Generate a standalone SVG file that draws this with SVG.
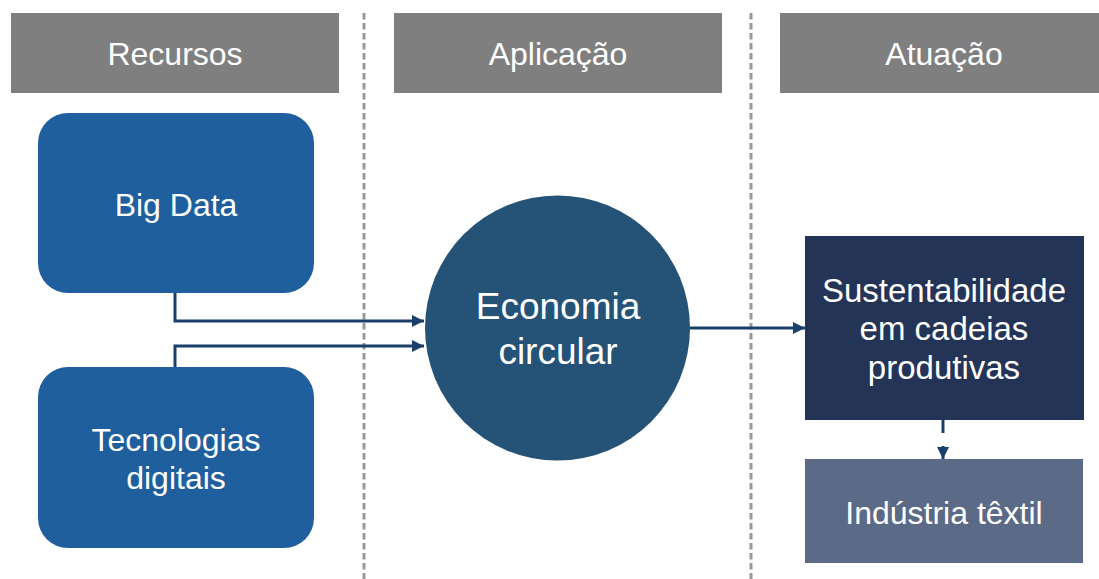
<svg xmlns="http://www.w3.org/2000/svg" width="1099" height="579" viewBox="0 0 1099 579">
  <style>
    .hdr { fill: #7f7f7f; }
    .t { font-family: "Liberation Sans", Arial, sans-serif; fill: #ffffff; text-anchor: middle; }
    .t32 { font-size: 32px; }
    .t33 { font-size: 33px; }
    .t36 { font-size: 37px; }
    .sep { stroke: #999999; stroke-width: 3; stroke-dasharray: 6.5 3.5; fill: none; }
    .conn { stroke: #1b3f6b; stroke-width: 3; fill: none; }
  </style>
  <defs>
    <marker id="arrow" viewBox="0 0 10 10" refX="10" refY="5" markerWidth="4.2" markerHeight="4" orient="auto" markerUnits="strokeWidth">
      <path d="M0,0 L10,5 L0,10 Z" fill="#1b3f6b"/>
    </marker>
  </defs>

  <rect width="1099" height="579" fill="#ffffff"/>

  <!-- column separators -->
  <g id="separators">
    <line class="sep" x1="364" y1="13" x2="364" y2="579"/>
    <line class="sep" x1="751" y1="13" x2="751" y2="579"/>
  </g>

  <!-- column headers -->
  <g id="header-recursos">
    <rect class="hdr" x="11" y="13" width="328" height="80"/>
    <text class="t t32" x="175" y="65">Recursos</text>
  </g>
  <g id="header-aplicacao">
    <rect class="hdr" x="394" y="13" width="328" height="80"/>
    <text class="t t32" x="558" y="65">Aplicação</text>
  </g>
  <g id="header-atuacao">
    <rect class="hdr" x="780" y="13" width="319" height="80"/>
    <text class="t t32" x="944" y="65">Atuação</text>
  </g>

  <!-- connectors -->
  <g id="connectors">
    <path class="conn" d="M175,293 V321 H424" marker-end="url(#arrow)"/>
    <path class="conn" d="M175,367 V346 H424" marker-end="url(#arrow)"/>
    <path class="conn" d="M690,328 H805" marker-end="url(#arrow)"/>
    <line class="conn" x1="943" y1="420" x2="943" y2="433"/>
    <path class="conn" d="M943,446 V459" marker-end="url(#arrow)"/>
  </g>

  <g id="node-big-data">
    <rect x="38" y="113" width="276" height="180" rx="30" fill="#205f9e"/>
    <text class="t t32" x="176" y="216">Big Data</text>
  </g>

  <g id="node-tecnologias">
    <rect x="38" y="367" width="276" height="181" rx="30" fill="#205f9e"/>
    <text class="t t32" x="176" y="451">Tecnologias</text>
    <text class="t t32" x="176" y="489">digitais</text>
  </g>

  <g id="node-economia">
    <circle cx="557.5" cy="328" r="132.5" fill="#255277"/>
    <text class="t t36" x="558" y="319">Economia</text>
    <text class="t t36" x="558" y="364">circular</text>
  </g>

  <g id="node-sustentabilidade">
    <rect x="805" y="236" width="279" height="184" fill="#243457"/>
    <text class="t t33" x="944" y="302">Sustentabilidade</text>
    <text class="t t33" x="944" y="340">em cadeias</text>
    <text class="t t33" x="944" y="379">produtivas</text>
  </g>

  <g id="node-industria">
    <rect x="805" y="459" width="278" height="104" fill="#5a6a87"/>
    <text class="t t32" x="944" y="524">Indústria têxtil</text>
  </g>
</svg>
